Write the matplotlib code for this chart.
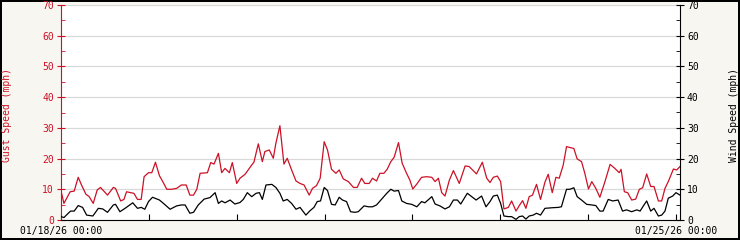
"""
Gust / wind speed over one week (01/18/26 - 01/25/26).
"""
import matplotlib
matplotlib.use('Agg')
import matplotlib.dates as mdates
import matplotlib.pyplot as plt
import matplotlib.ticker as mticker
import pandas as pd

# ── Data (hours since 01/18/26 00:00, mph) ──
START = pd.Timestamp('2026-01-18 00:00')

gust_hours = [
    0.0, 0.8, 2.5, 3.6, 4.7, 5.6, 6.8, 7.7, 8.8, 9.9, 10.8, 12.7, 14.3, 14.9,
    16.3, 17.2, 17.9, 19.0, 19.9, 20.9, 21.9, 22.7, 23.9, 24.8, 25.8, 26.9,
    27.8, 28.9, 30.2, 31.6, 32.9, 34.2, 35.2, 36.2, 37.1, 38.0, 40.0, 40.9,
    41.8, 43.0, 43.9, 44.8, 46.0, 46.8, 48.0, 48.9, 50.3, 52.1, 52.7, 53.9,
    55.0, 55.7, 56.9, 58.0, 58.7, 59.8, 60.9, 61.8, 63.0, 64.2, 65.3, 66.4,
    67.8, 68.7, 69.8, 70.8, 71.9, 72.8, 73.9, 75.1, 76.0, 77.1, 78.5, 79.9,
    80.9, 82.1, 83.0, 84.2, 85.1, 86.2, 87.1, 88.2, 89.1, 90.1, 91.0, 92.2,
    93.2, 94.4, 95.3, 96.1, 97.2, 98.5, 99.9, 101.3, 102.2, 103.1, 104.0,
    104.9, 106.1, 107.2, 108.8, 110.4, 111.5, 113.5, 115.1, 116.3, 117.2,
    118.1, 119.2, 120.1, 121.0, 122.2, 123.1, 124.3, 125.2, 126.1, 127.0,
    127.9, 128.8, 129.9, 131.0, 132.2, 133.1, 134.2, 135.2, 136.1, 137.2,
    138.1, 139.0, 140.1, 141.0, 142.2, 143.1, 144.1, 145.0, 146.1, 147.2,
    148.6, 150.0, 151.3, 152.5, 153.0, 153.9, 154.8, 155.9, 157.0, 158.0,
    158.9, 160.0, 161.1, 162.0, 163.2, 164.1, 165.0, 165.9, 167.3, 168.2,
    169.1,
]
gust_mph = [
    9.5, 5.4, 9.2, 9.4, 13.9, 11.4, 8.4, 7.6, 5.4, 9.8, 10.6, 8.1, 10.6, 10.3,
    6.2, 6.7, 9.2, 8.9, 8.7, 6.7, 6.7, 14.1, 15.4, 15.4, 18.8, 14.4,
    12.5, 10.0, 10.0, 10.3, 11.4, 11.4, 8.1, 8.1, 10.0, 15.2, 15.4, 18.7,
    18.2, 21.7, 15.4, 16.8, 15.4, 18.7, 11.9, 13.6, 14.9, 17.9, 18.8, 24.8,
    19.0, 22.3, 22.8, 20.1, 25.0, 30.7, 18.2, 20.1, 16.3, 12.7, 11.9, 11.4,
    8.1, 10.3, 11.2, 13.6, 25.5, 22.8, 16.5, 15.2, 16.3, 13.4, 12.5, 10.6,
    10.6, 13.6, 11.9, 11.9, 13.6, 12.7, 15.2, 15.2, 16.5, 19.0, 20.4, 25.2,
    18.5, 15.2, 13.0, 10.1, 11.7, 13.9, 14.1, 13.9, 12.5, 13.6, 8.9,
    7.8, 13.0, 16.1, 11.9, 17.6, 17.4, 15.0, 18.8, 13.6, 12.2,
    13.9, 14.3, 12.5, 3.6, 4.1, 6.2, 2.9, 4.7, 6.3, 3.8,
    7.6, 8.1, 11.6, 6.7, 12.3, 14.9, 8.9, 13.9, 13.6, 17.9,
    23.9, 23.6, 23.3, 19.9, 19.0, 15.2, 10.1, 12.5, 10.3, 7.4,
    12.5, 18.1, 16.8, 15.4, 16.5, 9.2, 8.9, 6.5, 6.8, 10.0,
    10.5, 15.0, 10.9, 10.9, 6.2, 6.2, 10.3, 12.5, 16.6, 16.3,
    17.4,
]

wind_hours = [
    0.0, 0.8, 2.6, 3.6, 4.7, 5.9, 7.0, 8.7, 10.2, 11.4, 12.7, 14.3, 14.9,
    16.1, 17.5, 19.6, 20.9, 21.9, 22.9, 23.9, 25.0, 26.9, 28.0, 29.8, 31.6,
    32.9, 33.9, 35.2, 36.2, 37.5, 39.1, 40.7, 42.1, 43.0, 43.9, 44.8, 46.2,
    47.5, 48.9, 49.8, 50.9, 52.1, 53.3, 54.2, 55.0, 56.0, 57.6, 58.7, 59.8,
    60.7, 61.8, 63.0, 64.2, 65.3, 66.9, 68.0, 69.1, 70.0, 70.9, 71.9, 72.8,
    73.9, 74.9, 76.0, 76.9, 78.0, 79.1, 80.3, 81.2, 82.8, 84.0, 85.1, 86.2,
    87.6, 89.0, 90.1, 91.0, 92.2, 93.1, 94.4, 95.8, 97.2, 98.5, 99.4, 101.3,
    102.2, 103.5, 104.9, 106.1, 107.2, 108.3, 109.2, 111.0, 112.2, 113.4,
    114.9, 116.1, 117.2, 118.1, 119.2, 120.1, 121.0, 122.2, 123.1, 124.3,
    125.2, 126.1, 127.0, 127.9, 129.0, 129.9, 131.0, 132.2, 134.3, 135.8,
    136.7, 138.1, 139.0, 140.1, 141.0, 142.2, 143.6, 145.0, 146.1, 147.2,
    148.1, 149.5, 150.7, 152.2, 153.4, 154.5, 155.9, 157.3, 158.2, 159.1,
    160.0, 161.1, 162.0, 163.2, 164.1, 165.0, 165.9, 167.1, 168.0, 169.1,
]
wind_mph = [
    1.1, 0.8, 2.9, 2.9, 4.7, 4.1, 1.6, 1.3, 3.8, 3.6, 2.5, 4.9, 5.1,
    2.7, 3.8, 5.6, 3.8, 4.1, 3.5, 6.0, 7.4, 6.5, 5.4, 3.5, 4.6,
    4.9, 4.9, 2.2, 2.5, 4.9, 6.8, 7.3, 8.9, 5.4, 6.2, 5.6, 6.5,
    5.2, 5.7, 6.7, 8.9, 7.6, 8.7, 8.9, 6.7, 11.4, 11.6, 10.6, 8.7,
    6.2, 6.7, 5.4, 3.5, 4.1, 1.6, 3.0, 4.1, 6.0, 6.2, 10.6, 9.6,
    5.1, 4.9, 7.4, 6.5, 6.0, 2.7, 2.5, 2.7, 4.6, 4.3, 4.3, 4.9,
    6.8, 8.7, 10.0, 9.4, 9.6, 6.2, 5.4, 5.1, 4.3, 6.0, 5.6, 7.6,
    5.2, 4.6, 3.6, 4.3, 6.5, 6.5, 5.2, 8.7, 7.6, 6.5,
    7.8, 4.3, 6.0, 7.8, 8.1, 5.4, 1.3, 1.1, 1.1, 0.2,
    1.1, 1.3, 0.3, 1.3, 1.6, 2.2, 1.6, 3.8, 4.0, 4.1,
    4.3, 10.0, 10.0, 10.5, 7.6, 6.5, 5.1, 4.9, 4.7, 2.9,
    2.9, 6.7, 6.2, 6.5, 2.9, 3.3, 2.7, 3.3, 2.9, 4.6,
    6.2, 2.9, 3.8, 1.3, 1.6, 2.9, 7.1, 7.8, 8.9, 8.1,
]

gust_time = START + pd.to_timedelta(gust_hours, unit='h')
wind_time = START + pd.to_timedelta(wind_hours, unit='h')
END = START + pd.Timedelta(hours=169.1)

# ── Estilo ──
RED = '#cc1126'
BG = '#f7f6f1'
FONT = 'DejaVu Sans Mono'
FS = 7

fig = plt.figure(figsize=(7.4, 2.4), dpi=100)
fig.patch.set_facecolor(BG)
fig.patch.set_edgecolor('black')
fig.patch.set_linewidth(1.5)

ax = fig.add_axes([61 / 740, 20 / 240, 619 / 740, 215 / 240])
ax.set_facecolor('white')
ax2 = ax.twinx()

ax.plot(gust_time, gust_mph, color=RED, lw=0.9, zorder=3)
ax2.plot(wind_time, wind_mph, color='black', lw=0.9, zorder=3)

for a in (ax, ax2):
    a.set_ylim(0, 70)
    a.set_xlim(START, END)
    a.yaxis.set_major_locator(mticker.MultipleLocator(10))
    a.yaxis.set_minor_locator(mticker.MultipleLocator(5))
    for s in ('top',):
        a.spines[s].set_visible(False)

ax.yaxis.grid(True, which='major', color='#d9d9d9', lw=0.9, zorder=0)
ax.set_axisbelow(True)

# Eje izquierdo (rojo)
ax.spines['right'].set_visible(False)
ax.spines['left'].set_color(RED)
ax.spines['bottom'].set_color('black')
ax.tick_params(axis='y', which='major', direction='inout', length=6,
               color=RED, labelcolor=RED, pad=2, labelsize=FS)
ax.tick_params(axis='y', which='minor', direction='in', length=3, color=RED)

# Eje derecho (negro)
ax2.spines['left'].set_visible(False)
ax2.spines['bottom'].set_visible(False)
ax2.spines['right'].set_color('black')
ax2.tick_params(axis='y', which='major', direction='inout', length=6,
                color='black', labelcolor='black', pad=2, labelsize=FS)
ax2.tick_params(axis='y', which='minor', direction='in', length=3, color='black')

# Eje X: un tick por día, sólo se rotulan el primero y el último
ax.xaxis.set_major_locator(mdates.DayLocator())


def day_label(x, pos):
    d = mdates.num2date(x)
    if d.day in (18, 25):
        return d.strftime('%m/%d/%y %H:%M')
    return ''


ax.xaxis.set_major_formatter(mticker.FuncFormatter(day_label))
ax.tick_params(axis='x', which='major', direction='in', length=4,
               color='black', pad=4, labelsize=FS)
ax2.tick_params(axis='x', which='both', bottom=False, labelbottom=False)

for lab in ax.get_xticklabels() + ax.get_yticklabels() + ax2.get_yticklabels():
    lab.set_family(FONT)

fig.text(7 / 740, 1 - 115 / 240, 'Gust Speed (mph)', rotation=90, color=RED,
         ha='center', va='center', family=FONT, fontsize=FS)
fig.text(734 / 740, 1 - 115 / 240, 'Wind Speed (mph)', rotation=90, color='black',
         ha='center', va='center', family=FONT, fontsize=FS)

fig.savefig('out.png', dpi=100, facecolor=BG, edgecolor='black')
